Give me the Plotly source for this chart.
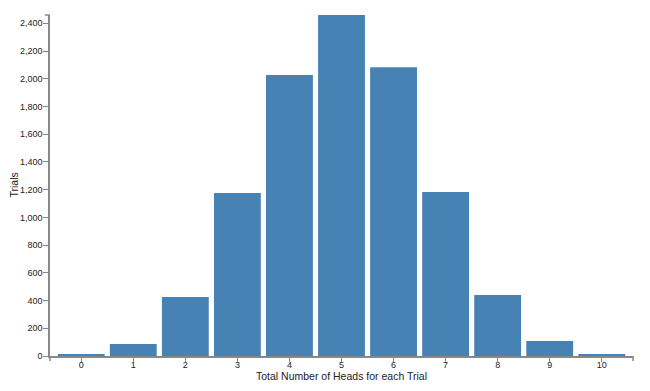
import plotly.graph_objects as go

heads = list(range(11))
trials = [9, 87, 426, 1176, 2027, 2460, 2083, 1183, 440, 108, 9]
x_title = "Total Number of Heads for each Trial"
y_title = "Trials"

axis_color = "#888888"
font = dict(family="Liberation Sans, Arial, Helvetica, sans-serif", size=9, color="#222222")

fig = go.Figure(go.Bar(x=heads, y=trials, marker=dict(color="#4682B4", line=dict(width=0)),
                       hoverinfo="skip"))

fig.update_layout(
    width=650, height=391,
    margin=dict(l=50, r=17, t=15, b=35),
    plot_bgcolor="white", paper_bgcolor="white",
    bargap=0.1, showlegend=False, font=font,
)
fig.update_xaxes(
    automargin=False,
    range=[-0.6, 10.6], tickmode="array", tickvals=heads, ticktext=[str(h) for h in heads],
    showgrid=False, zeroline=False, showline=True, linecolor=axis_color, linewidth=1.5,
    ticks="outside", ticklen=4, tickcolor=axis_color, tickfont=dict(size=9),
    ticklabelstandoff=-5,
)
fig.update_yaxes(
    automargin=False,
    range=[0, max(trials)], dtick=200, tickformat=",",
    showgrid=False, zeroline=False, showline=True, linecolor=axis_color, linewidth=1.5,
    ticks="outside", ticklen=5, tickcolor=axis_color, tickfont=dict(size=9),
    ticklabelstandoff=-1,
)
# axis titles
fig.add_annotation(text=x_title, xref="paper", yref="paper", x=0.5, y=0, yshift=-20,
                   xanchor="center", yanchor="middle", showarrow=False,
                   font=dict(size=10.5, color="#222222"))
fig.add_annotation(text=y_title, xref="paper", yref="paper", x=0, y=0.5, xshift=-37,
                   xanchor="center", yanchor="middle", textangle=-90, showarrow=False,
                   font=dict(size=10.5, color="#222222"))
# outer end ticks (d3-style)
fig.add_shape(type="line", xref="paper", yref="paper", x0=0, x1=-0.009, y0=1, y1=1,
              line=dict(color=axis_color, width=1.5))
fig.add_shape(type="line", xref="paper", yref="paper", x0=1, x1=1, y0=0, y1=-0.015,
              line=dict(color=axis_color, width=1.5))
fig.add_shape(type="line", xref="paper", yref="paper", x0=0, x1=0, y0=0, y1=-0.015,
              line=dict(color=axis_color, width=1.5))

fig.write_html("out.html", config={"displayModeBar": False},
               post_script="document.body.style.margin='0';document.body.style.overflow='hidden';")
